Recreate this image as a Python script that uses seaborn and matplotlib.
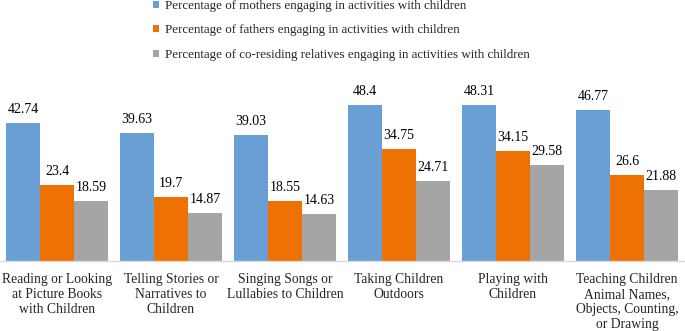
import matplotlib
matplotlib.use("Agg")
import matplotlib.pyplot as plt
import seaborn as sns
import pandas as pd
from matplotlib.patches import Patch

categories = [
    "Reading or Looking\nat Picture Books\nwith Children",
    "Telling Stories or\nNarratives to\nChildren",
    "Singing Songs or\nLullabies to Children",
    "Taking Children\nOutdoors",
    "Playing with\nChildren",
    "Teaching Children\nAnimal Names,\nObjects, Counting,\nor Drawing",
]
series_names = [
    "Percentage of mothers engaging in activities with children",
    "Percentage of fathers engaging in activities with children",
    "Percentage of co-residing relatives engaging in activities with children",
]
mothers = [42.74, 39.63, 39.03, 48.4, 48.31, 46.77]
fathers = [23.4, 19.7, 18.55, 34.75, 34.15, 26.6]
relatives = [18.59, 14.87, 14.63, 24.71, 29.58, 21.88]
colors = ["#699fd4", "#ee7203", "#a5a5a5"]

rows = []
for name, vals in zip(series_names, [mothers, fathers, relatives]):
    for c, v in zip(categories, vals):
        rows.append({"cat": c, "series": name, "value": v})
df = pd.DataFrame(rows)

sns.set_theme(style="white")
plt.rcParams["font.family"] = ["Liberation Serif", "DejaVu Serif"]

fig = plt.figure(figsize=(6.85, 3.31), dpi=100)
ax = fig.add_axes([0.0, 70 / 331, 684 / 685, (261 - 67) / 331])

sns.barplot(data=df, x="cat", y="value", hue="series", order=categories,
            hue_order=series_names, palette=colors, width=0.895,
            saturation=1, ax=ax, legend=False, linewidth=0, errorbar=None)

for cont in ax.containers:
    ax.bar_label(cont, fmt="%g", padding=5, fontsize=10, color="black")

ax.set_ylim(0, 60)
ax.set_xlim(-0.5, 5.5)
ax.set_xlabel("")
ax.set_ylabel("")
ax.set_yticks([])
for s in ["top", "right", "left"]:
    ax.spines[s].set_visible(False)
ax.spines["bottom"].set_color("#d9d9d9")
ax.spines["bottom"].set_linewidth(1.0)
ax.tick_params(axis="x", length=0, pad=9, labelsize=9.8)
for lab in ax.get_xticklabels():
    lab.set_linespacing(1.17)
    lab.set_horizontalalignment("center")

handles = [Patch(facecolor=c, edgecolor="none") for c in colors]
fig.legend(handles, series_names, loc="upper left",
           bbox_to_anchor=(153 / 685, 1.0), frameon=False, fontsize=9.4,
           handlelength=0.45, handleheight=0.45, handletextpad=0.5,
           labelspacing=0.95, borderaxespad=0.0, borderpad=0.0)

fig.savefig("out.png", dpi=100)
